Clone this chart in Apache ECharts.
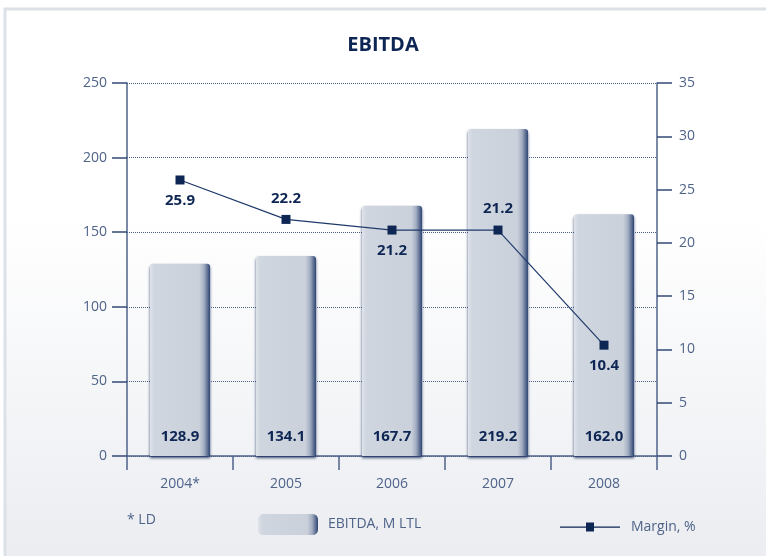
<!DOCTYPE html>
<html>
<head>
<meta charset="utf-8">
<script src="https://cdn.jsdelivr.net/npm/echarts@6/dist/echarts.min.js"></script>
<style>
html,body{margin:0;padding:0;background:#fff;}
#c{width:766px;height:556px;}
</style>
</head>
<body>
<div id="c"></div>
<script>
var categories = ['2004*', '2005', '2006', '2007', '2008'];
var ebitda = [128.9, 134.1, 167.7, 219.2, 162.0];
var margin = [25.9, 22.2, 21.2, 21.2, 10.4];
var leftTicks = [0, 50, 100, 150, 200, 250];
var rightTicks = [0, 5, 10, 15, 20, 25, 30, 35];

var marginLabelPos = ['bottom', 'top', 'bottom', 'top', 'bottom'];
var navy = '#0d2653';
var axisGrey = '#4f6389';
var font = '"Open Sans", "Noto Sans", sans-serif';

var chart = echarts.init(document.getElementById('c'));

var barColor = new echarts.graphic.LinearGradient(0, 0, 1, 0, [
  {offset: 0, color: '#dfe3ea'},
  {offset: 0.07, color: '#d0d6df'},
  {offset: 0.82, color: '#cbd1db'},
  {offset: 0.9, color: '#a3aec1'},
  {offset: 1, color: '#2f4573'}
]);

chart.setOption({
  backgroundColor: '#ffffff',
  animation: false,
  graphic: [{
    type: 'rect',
    z: -10,
    silent: true,
    shape: {x: 5, y: 9, width: 900, height: 700},
    style: {
      fill: new echarts.graphic.LinearGradient(0, 0, 0, 1, [
        {offset: 0, color: '#ffffff'},
        {offset: 0.3, color: '#ffffff'},
        {offset: 0.75, color: '#eceef2'},
        {offset: 1, color: '#e6e9ee'}
      ]),
      stroke: '#dce1e8',
      lineWidth: 3
    }
  }, {
    type: 'text',
    left: 127,
    top: 513,
    style: {text: '* LD', fill: axisGrey, font: '14px ' + font}
  }],
  title: {
    text: 'EBITDA',
    left: 'center',
    top: 30,
    textStyle: {color: navy, fontFamily: font, fontWeight: 'bold', fontSize: 20}
  },
  legend: [{
    data: ['EBITDA, M LTL'],
    left: 258,
    top: 514,
    padding: 0,
    itemWidth: 60,
    itemHeight: 21,
    itemGap: 10,
    textStyle: {color: axisGrey, fontFamily: font, fontSize: 14, padding: [0, 0, 0, 5]}
  }, {
    data: [{
      name: 'Margin, %',
      icon: 'path://M0,4L26,4L26,5.2L0,5.2Z M26,0L34,0L34,9L26,9Z M34,4L60,4L60,5.2L34,5.2Z'
    }],
    left: 560,
    top: 520,
    padding: 0,
    itemWidth: 60,
    itemHeight: 9,
    itemGap: 10,
    textStyle: {color: axisGrey, fontFamily: font, fontSize: 14, padding: [0, 0, 0, 6]}
  }],
  grid: {left: 127, right: 109, top: 83, bottom: 100, containLabel: false},
  xAxis: {
    type: 'category',
    data: categories,
    boundaryGap: true,
    axisLine: {lineStyle: {color: axisGrey, width: 1.5}},
    axisTick: {show: true, length: 14, alignWithLabel: false, lineStyle: {color: axisGrey, width: 1.5}},
    axisLabel: {color: axisGrey, fontFamily: font, fontSize: 14, margin: 21}
  },
  yAxis: [{
    type: 'value',
    min: 0, max: 250, interval: 50,
    position: 'left',
    axisLine: {show: true, lineStyle: {color: axisGrey, width: 1.5}},
    axisTick: {show: true, length: 15, lineStyle: {color: '#334a76', width: 1.5}},
    axisLabel: {color: axisGrey, fontFamily: font, fontSize: 14, margin: 20},
    splitLine: {show: true, lineStyle: {color: '#4a5f88', type: [1, 1], width: 1}}
  }, {
    type: 'value',
    min: 0, max: 35, interval: 5,
    position: 'right',
    axisLine: {show: true, lineStyle: {color: axisGrey, width: 1.5}},
    axisTick: {show: true, length: 15, lineStyle: {color: '#334a76', width: 1.5}},
    axisLabel: {color: axisGrey, fontFamily: font, fontSize: 14, margin: 22},
    splitLine: {show: false}
  }],
  series: [{
    name: 'EBITDA, M LTL',
    type: 'bar',
    yAxisIndex: 0,
    data: ebitda,
    barWidth: 60,
    z: 3,
    itemStyle: {
      color: barColor,
      borderRadius: [3, 3, 0, 0],
      shadowColor: 'rgba(30,50,95,0.85)',
      shadowBlur: 3,
      shadowOffsetX: 0,
      shadowOffsetY: 2
    },
    label: {
      show: true,
      position: 'insideBottom',
      distance: 12,
      color: navy,
      fontFamily: font,
      fontWeight: 'bold',
      fontSize: 15,
      formatter: function (p) { return p.value.toFixed(1); }
    }
  }, {
    name: 'Margin, %',
    type: 'line',
    yAxisIndex: 1,
    z: 5,
    data: margin.map(function (v, i) {
      return {value: v, label: {position: marginLabelPos[i]}};
    }),
    symbol: 'rect',
    symbolSize: 9,
    lineStyle: {color: '#1f3a6a', width: 1.2},
    itemStyle: {color: navy},
    label: {
      show: true,
      distance: 9,
      color: navy,
      fontFamily: font,
      fontWeight: 'bold',
      fontSize: 15,
      formatter: function (p) { return p.value.toFixed(1); }
    }
  }]
});
</script>
</body>
</html>
